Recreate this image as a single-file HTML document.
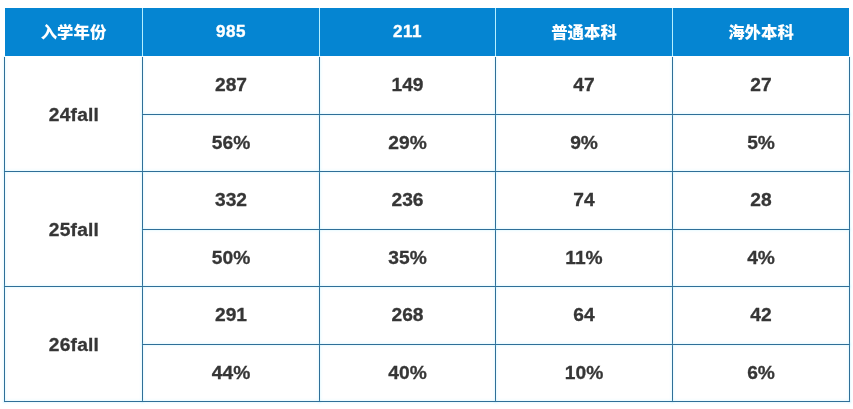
<!DOCTYPE html>
<html lang="zh-CN"><head><meta charset="utf-8"><title>table</title>
<style>
html,body{margin:0;padding:0;background:#fff;}
body{width:853px;height:409px;position:relative;overflow:hidden;font-family:"Liberation Sans","Noto Sans CJK SC",sans-serif;font-weight:bold;}
.a{position:absolute;}
.hd{background:#0585d2;}
.l{position:absolute;background:#2f6f98;box-shadow:0 0 2px 1px rgba(150,230,255,0.22);}
.hl{position:absolute;background:#b4efff;}
.c{position:absolute;display:flex;align-items:center;justify-content:center;color:#363636;font-size:19.2px;white-space:nowrap;-webkit-text-stroke:0.3px #363636;padding-bottom:1px;box-sizing:border-box;}
.c.y{letter-spacing:0.2px;padding:2px 0 0 1px;}
.h{position:absolute;display:flex;align-items:center;justify-content:center;color:#fff;font-size:16.4px;white-space:nowrap;font-weight:900;padding-bottom:2px;box-sizing:border-box;}
.h.n{font-size:17px;font-weight:bold;padding-bottom:0;letter-spacing:0.6px;-webkit-text-stroke:0.4px #fff;}
</style></head><body>

<div class="a hd" style="left:5px;top:8px;width:844px;height:48px"></div>
<div class="hl" style="left:142px;top:8px;width:1px;height:48px"></div>
<div class="hl" style="left:319px;top:8px;width:1px;height:48px"></div>
<div class="hl" style="left:495px;top:8px;width:1px;height:48px"></div>
<div class="hl" style="left:672px;top:8px;width:1px;height:48px"></div>
<div class="h" style="left:5px;top:8px;width:137px;height:48px">入学年份</div>
<div class="h n" style="left:143px;top:8px;width:176px;height:48px">985</div>
<div class="h n" style="left:320px;top:8px;width:175px;height:48px">211</div>
<div class="h" style="left:496px;top:8px;width:176px;height:48px">普通本科</div>
<div class="h" style="left:673px;top:8px;width:176px;height:48px">海外本科</div>
<div class="l" style="left:4px;top:57px;width:1px;height:345px"></div>
<div class="l" style="left:142px;top:57px;width:1px;height:345px"></div>
<div class="l" style="left:319px;top:57px;width:1px;height:345px"></div>
<div class="l" style="left:495px;top:57px;width:1px;height:345px"></div>
<div class="l" style="left:672px;top:57px;width:1px;height:345px"></div>
<div class="l" style="left:849px;top:57px;width:1px;height:345px"></div>
<div class="l" style="left:142px;top:114px;width:708px;height:1px"></div>
<div class="l" style="left:4px;top:171px;width:846px;height:1px"></div>
<div class="l" style="left:142px;top:229px;width:708px;height:1px"></div>
<div class="l" style="left:4px;top:286px;width:846px;height:1px"></div>
<div class="l" style="left:142px;top:344px;width:708px;height:1px"></div>
<div class="l" style="left:4px;top:401px;width:846px;height:1px"></div>
<div class="c y" style="left:5px;top:57px;width:137px;height:114px">24fall</div>
<div class="c y" style="left:5px;top:172px;width:137px;height:114px">25fall</div>
<div class="c y" style="left:5px;top:287px;width:137px;height:114px">26fall</div>
<div class="c" style="left:143px;top:57px;width:176px;height:57px">287</div>
<div class="c" style="left:320px;top:57px;width:175px;height:57px">149</div>
<div class="c" style="left:496px;top:57px;width:176px;height:57px">47</div>
<div class="c" style="left:673px;top:57px;width:176px;height:57px">27</div>
<div class="c" style="left:143px;top:115px;width:176px;height:56px">56%</div>
<div class="c" style="left:320px;top:115px;width:175px;height:56px">29%</div>
<div class="c" style="left:496px;top:115px;width:176px;height:56px">9%</div>
<div class="c" style="left:673px;top:115px;width:176px;height:56px">5%</div>
<div class="c" style="left:143px;top:172px;width:176px;height:57px">332</div>
<div class="c" style="left:320px;top:172px;width:175px;height:57px">236</div>
<div class="c" style="left:496px;top:172px;width:176px;height:57px">74</div>
<div class="c" style="left:673px;top:172px;width:176px;height:57px">28</div>
<div class="c" style="left:143px;top:230px;width:176px;height:56px">50%</div>
<div class="c" style="left:320px;top:230px;width:175px;height:56px">35%</div>
<div class="c" style="left:496px;top:230px;width:176px;height:56px">11%</div>
<div class="c" style="left:673px;top:230px;width:176px;height:56px">4%</div>
<div class="c" style="left:143px;top:287px;width:176px;height:57px">291</div>
<div class="c" style="left:320px;top:287px;width:175px;height:57px">268</div>
<div class="c" style="left:496px;top:287px;width:176px;height:57px">64</div>
<div class="c" style="left:673px;top:287px;width:176px;height:57px">42</div>
<div class="c" style="left:143px;top:345px;width:176px;height:56px">44%</div>
<div class="c" style="left:320px;top:345px;width:175px;height:56px">40%</div>
<div class="c" style="left:496px;top:345px;width:176px;height:56px">10%</div>
<div class="c" style="left:673px;top:345px;width:176px;height:56px">6%</div>
</body></html>
